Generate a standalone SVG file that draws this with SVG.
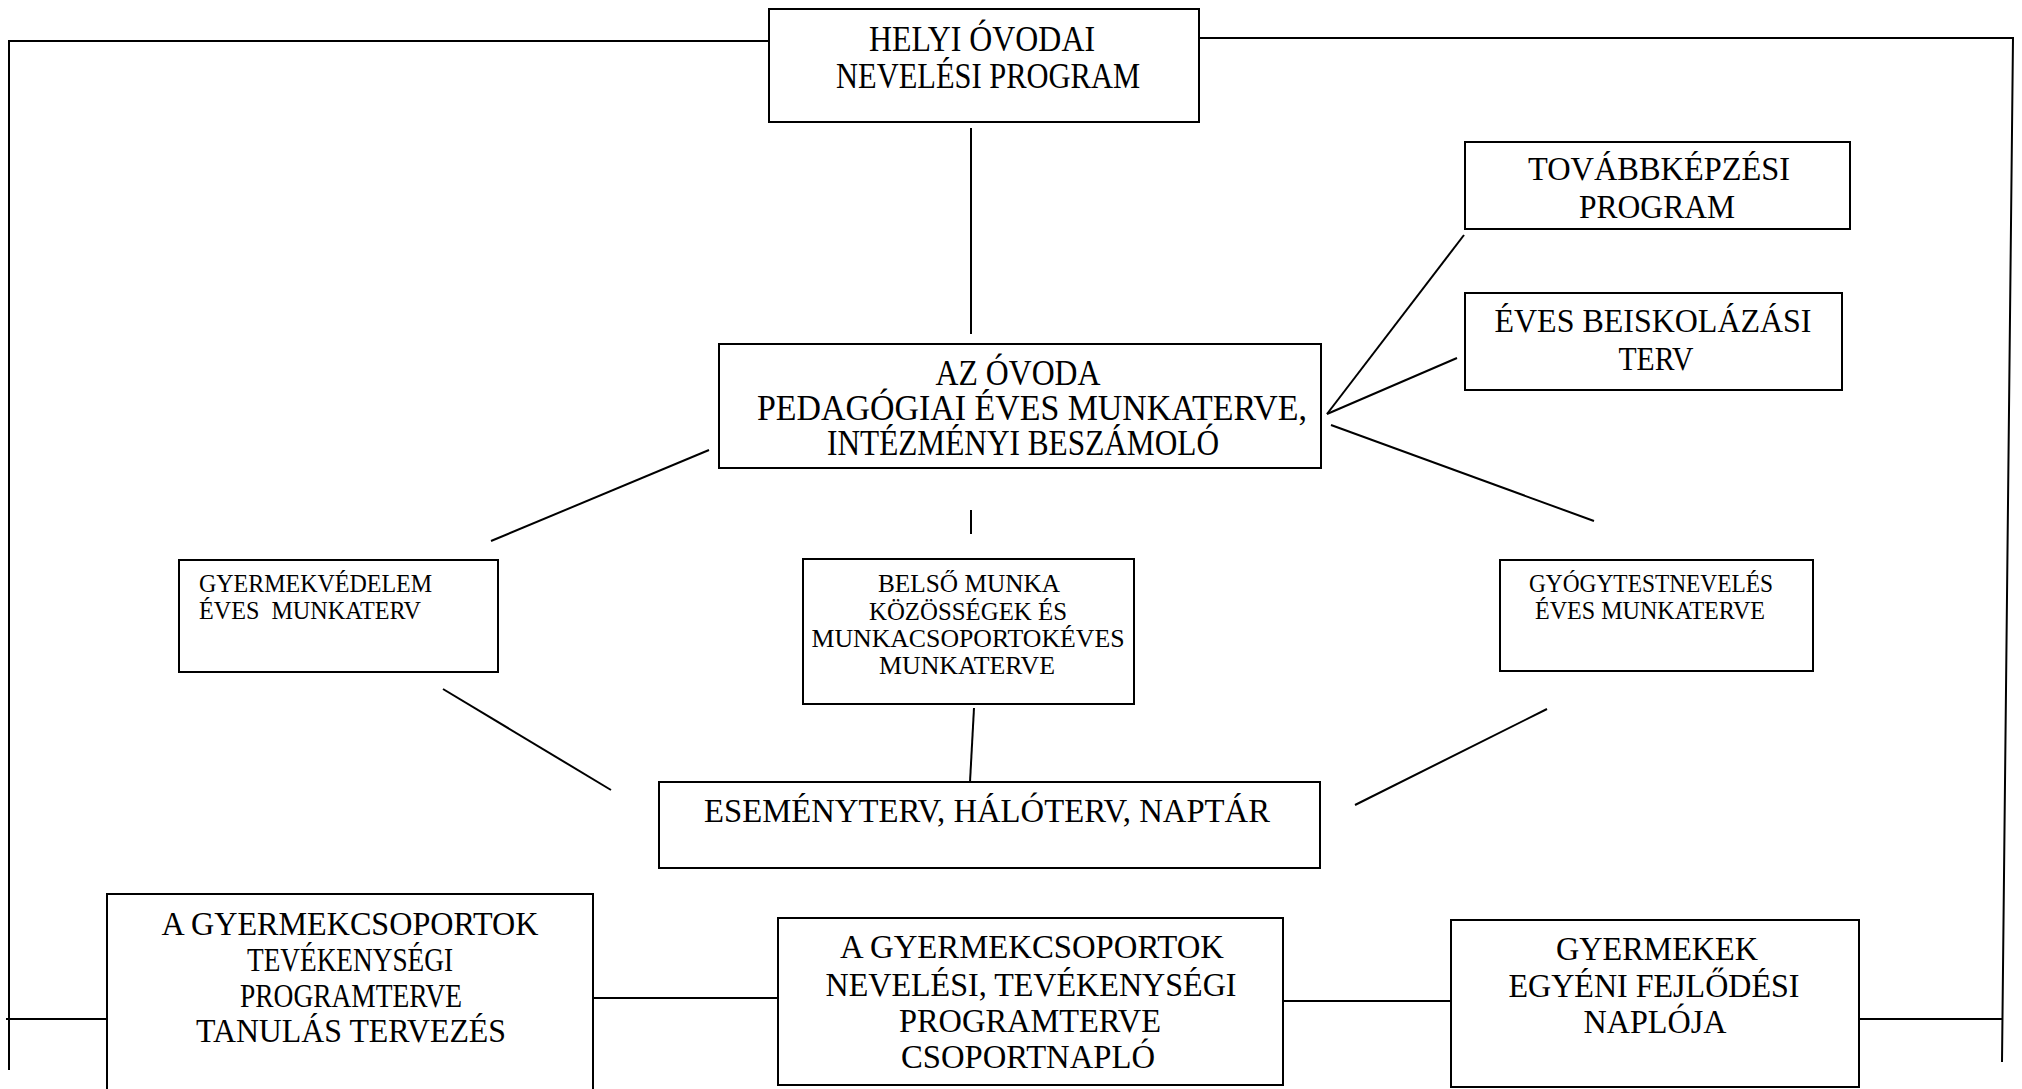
<svg xmlns="http://www.w3.org/2000/svg" width="2022" height="1089" viewBox="0 0 2022 1089">
<style>
.box{fill:#fff;stroke:#000;stroke-width:2}
.ln{stroke:#000;stroke-width:2;fill:none}
.t{font-family:"Liberation Serif","Times New Roman",serif;font-size:33px;fill:#000;text-anchor:middle}
.s{font-size:25px}
.h{font-size:36px}
.a{font-size:35px}
.l{text-anchor:start}
</style>
<rect width="2022" height="1089" fill="#fff"/>
<g id="connectors">
<polyline class="ln" points="769,41 9,41 9,1070"/>
<polyline class="ln" points="1199,38 2013,38 2002,1062"/>
<line class="ln" x1="6" y1="1019" x2="107" y2="1019"/>
<line class="ln" x1="1859" y1="1019" x2="2002" y2="1019"/>
<line class="ln" x1="971" y1="128" x2="971" y2="334"/>
<line class="ln" x1="971" y1="510" x2="971" y2="534"/>
<line class="ln" x1="709" y1="450" x2="491" y2="541"/>
<line class="ln" x1="1327" y1="414" x2="1464" y2="235"/>
<line class="ln" x1="1327" y1="414" x2="1457" y2="358"/>
<line class="ln" x1="1331" y1="425" x2="1594" y2="521"/>
<line class="ln" x1="443" y1="689" x2="611" y2="790"/>
<line class="ln" x1="974" y1="708" x2="970" y2="782"/>
<line class="ln" x1="1547" y1="709" x2="1355" y2="805"/>
<line class="ln" x1="593" y1="998" x2="778" y2="998"/>
<line class="ln" x1="1283" y1="1001" x2="1451" y2="1001"/>
</g>
<g id="helyi">
<rect class="box" x="769" y="9" width="430" height="113"/>
<text class="t h" x="982" y="51" textLength="226" lengthAdjust="spacingAndGlyphs">HELYI ÓVODAI</text>
<text class="t h" x="988" y="88" textLength="304" lengthAdjust="spacingAndGlyphs">NEVELÉSI PROGRAM</text>
</g>
<g id="az-ovoda">
<rect class="box" x="719" y="344" width="602" height="124"/>
<text class="t a" x="1018" y="385" textLength="165" lengthAdjust="spacingAndGlyphs">AZ ÓVODA</text>
<text class="t a" x="1032" y="420" textLength="550" lengthAdjust="spacingAndGlyphs">PEDAGÓGIAI ÉVES MUNKATERVE,</text>
<text class="t a" x="1023" y="455" textLength="392" lengthAdjust="spacingAndGlyphs">INTÉZMÉNYI BESZÁMOLÓ</text>
</g>
<g id="tovabbkepzesi">
<rect class="box" x="1465" y="142" width="385" height="87"/>
<text class="t" x="1659" y="180" textLength="262" lengthAdjust="spacingAndGlyphs">TOVÁBBKÉPZÉSI</text>
<text class="t" x="1657" y="218" textLength="156" lengthAdjust="spacingAndGlyphs">PROGRAM</text>
</g>
<g id="beiskolazasi">
<rect class="box" x="1465" y="293" width="377" height="97"/>
<text class="t" x="1653" y="332" textLength="317" lengthAdjust="spacingAndGlyphs">ÉVES BEISKOLÁZÁSI</text>
<text class="t" x="1656" y="370" textLength="75" lengthAdjust="spacingAndGlyphs">TERV</text>
</g>
<g id="gyermekvedelem">
<rect class="box" x="179" y="560" width="319" height="112"/>
<text class="t s l" x="199" y="592" textLength="233" lengthAdjust="spacingAndGlyphs">GYERMEKVÉDELEM</text>
<text class="t s l" x="199" y="619" textLength="222" lengthAdjust="spacingAndGlyphs" xml:space="preserve">ÉVES  MUNKATERV</text>
</g>
<g id="belso">
<rect class="box" x="803" y="559" width="331" height="145"/>
<text class="t s" x="969" y="592" textLength="182" lengthAdjust="spacingAndGlyphs">BELSŐ MUNKA</text>
<text class="t s" x="968" y="620" textLength="198" lengthAdjust="spacingAndGlyphs">KÖZÖSSÉGEK ÉS</text>
<text class="t s" x="968" y="647" textLength="313" lengthAdjust="spacingAndGlyphs">MUNKACSOPORTOKÉVES</text>
<text class="t s" x="967" y="674" textLength="176" lengthAdjust="spacingAndGlyphs">MUNKATERVE</text>
</g>
<g id="gyogytestneveles">
<rect class="box" x="1500" y="560" width="313" height="111"/>
<text class="t s" x="1651" y="592" textLength="244" lengthAdjust="spacingAndGlyphs">GYÓGYTESTNEVELÉS</text>
<text class="t s" x="1650" y="619" textLength="230" lengthAdjust="spacingAndGlyphs">ÉVES MUNKATERVE</text>
</g>
<g id="esemenyterv">
<rect class="box" x="659" y="782" width="661" height="86"/>
<text class="t" x="987" y="822" textLength="566" lengthAdjust="spacingAndGlyphs">ESEMÉNYTERV, HÁLÓTERV, NAPTÁR</text>
</g>
<g id="tevekenysegi">
<rect class="box" x="107" y="894" width="486" height="205"/>
<text class="t" x="350" y="935" textLength="377" lengthAdjust="spacingAndGlyphs">A GYERMEKCSOPORTOK</text>
<text class="t" x="350" y="971" textLength="206" lengthAdjust="spacingAndGlyphs">TEVÉKENYSÉGI</text>
<text class="t" x="351" y="1007" textLength="222" lengthAdjust="spacingAndGlyphs">PROGRAMTERVE</text>
<text class="t" x="351" y="1042" textLength="310" lengthAdjust="spacingAndGlyphs">TANULÁS TERVEZÉS</text>
</g>
<g id="csoportnaplo">
<rect class="box" x="778" y="918" width="505" height="167"/>
<text class="t" x="1032" y="958" textLength="384" lengthAdjust="spacingAndGlyphs">A GYERMEKCSOPORTOK</text>
<text class="t" x="1031" y="996" textLength="411" lengthAdjust="spacingAndGlyphs">NEVELÉSI, TEVÉKENYSÉGI</text>
<text class="t" x="1030" y="1032" textLength="262" lengthAdjust="spacingAndGlyphs">PROGRAMTERVE</text>
<text class="t" x="1028" y="1068" textLength="254" lengthAdjust="spacingAndGlyphs">CSOPORTNAPLÓ</text>
</g>
<g id="fejlodesi-naplo">
<rect class="box" x="1451" y="920" width="408" height="167"/>
<text class="t" x="1657" y="960" textLength="202" lengthAdjust="spacingAndGlyphs">GYERMEKEK</text>
<text class="t" x="1654" y="997" textLength="291" lengthAdjust="spacingAndGlyphs">EGYÉNI FEJLŐDÉSI</text>
<text class="t" x="1655" y="1033" textLength="143" lengthAdjust="spacingAndGlyphs">NAPLÓJA</text>
</g>
</svg>
